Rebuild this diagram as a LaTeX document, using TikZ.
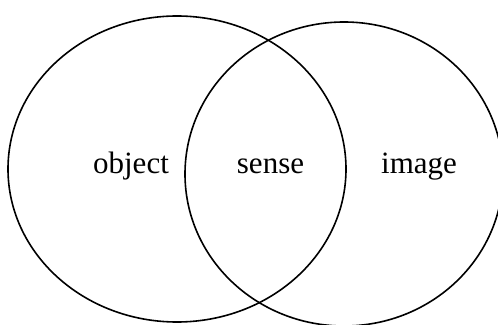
\documentclass[tikz,border=0pt]{standalone}
\usepackage{fontspec}
\setmainfont{Liberation Serif}
\usetikzlibrary{shapes.geometric}
\begin{document}
\begin{tikzpicture}[x=1pt,y=1pt,
  setshape/.style={ellipse, draw, line width=1.6pt, inner sep=0pt},
  lab/.style={anchor=base, font=\fontsize{31}{36}\selectfont, inner sep=0pt}]
\useasboundingbox (0,0) rectangle (498,324);
\clip (0,0) rectangle (498,324);
\node[setshape, minimum width=338pt, minimum height=306pt] (obj) at (177,155) {};
\node[setshape, minimum width=318pt, minimum height=304pt] (img) at (344,150) {};
\node[lab] (tobject) at (131,150) {object};
\node[lab] (tsense) at (270.5,150) {sense};
\node[lab] (timage) at (419,150) {image};
\end{tikzpicture}
\end{document}
